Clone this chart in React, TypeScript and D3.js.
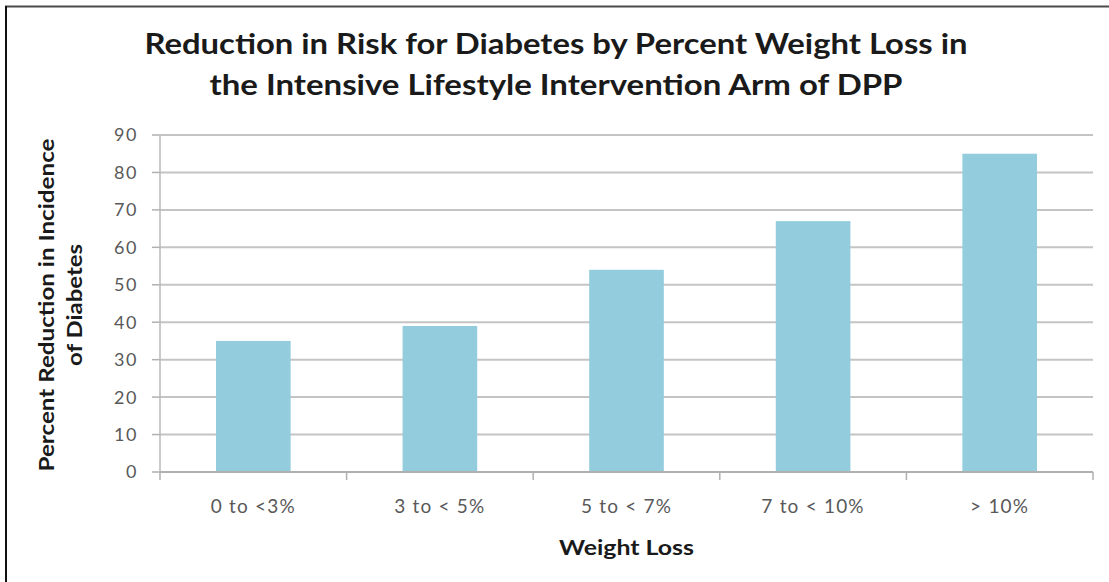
import React from "react";
import * as d3 from "d3";

const categories = ["0 to <3%", "3 to < 5%", "5 to < 7%", "7 to < 10%", "> 10%"];
const values = [35, 39, 54, 67, 85];
const yTicks = [0, 10, 20, 30, 40, 50, 60, 70, 80, 90];
const titleLines = [
  "Reduction in Risk for Diabetes by Percent Weight Loss in",
  "the Intensive Lifestyle Intervention Arm of DPP",
];
const yTitleLines = ["Percent Reduction in Incidence", "of Diabetes"];
const xTitle = "Weight Loss";

const W = 1109;
const H = 582;
const plot = { left: 160, right: 1093, top: 135, bottom: 472 };
const font = "Lato, 'Open Sans', sans-serif";
const titleWidths = [823, 693];
const yTitleWidths = [333, 122];

export default function App() {
  const x = d3
    .scaleBand<string>()
    .domain(categories)
    .range([plot.left, plot.right])
    .paddingInner(0)
    .paddingOuter(0);
  const y = d3.scaleLinear().domain([0, 90]).range([plot.bottom, plot.top]);
  const bw = x.bandwidth() * 0.4;

  return (
    <svg
      width={W}
      height={H}
      style={{ position: "absolute", left: 0, top: 0, background: "#fff" }}
      fontFamily={font}
    >
      <rect x={0} y={0} width={W} height={H} fill="#fff" />
      {/* frame */}
      <line x1={5} y1={6.5} x2={W} y2={6.5} stroke="#4a4a4a" strokeWidth={2} />
      <line x1={6} y1={6} x2={6} y2={H} stroke="#111" strokeWidth={2} />

      {/* title */}
      {titleLines.map((t, i) => (
        <text
          key={i}
          x={556}
          y={54 + i * 41}
          textAnchor="middle"
          fontSize={29}
          fontWeight="bold"
          fill="#1a1a1a"
          textLength={titleWidths[i]}
          lengthAdjust="spacingAndGlyphs"
        >
          {t}
        </text>
      ))}

      {/* gridlines */}
      {yTicks.map((t) => (
        <g key={t}>
          <line
            x1={plot.left}
            x2={plot.right}
            y1={y(t)}
            y2={y(t)}
            stroke="#c4c4c4"
            strokeWidth={2}
          />
          <line
            x1={plot.left - 8}
            x2={plot.left}
            y1={y(t)}
            y2={y(t)}
            stroke="#b0b0b0"
            strokeWidth={1.5}
          />
          <text
            x={138}
            y={y(t)}
            dy="0.36em"
            textAnchor="end"
            fontSize={18}
            letterSpacing={1.5}
            fill="#595959"
          >
            {t}
          </text>
        </g>
      ))}

      {/* y axis line */}
      <line
        x1={plot.left}
        x2={plot.left}
        y1={plot.top}
        y2={plot.bottom}
        stroke="#b8b8b8"
        strokeWidth={1.5}
      />

      {/* bars */}
      {categories.map((c, i) => (
        <rect
          key={c}
          x={(x(c) as number) + (x.bandwidth() - bw) / 2}
          y={y(values[i])}
          width={bw}
          height={y(0) - y(values[i])}
          fill="#93cddd"
        />
      ))}

      {/* x axis */}
      <line
        x1={plot.left}
        x2={plot.right}
        y1={plot.bottom}
        y2={plot.bottom}
        stroke="#b0b0b0"
        strokeWidth={2}
      />
      {[...categories.map((c) => x(c) as number), plot.right].map((px, i) => (
        <line
          key={"t" + i}
          x1={px}
          x2={px}
          y1={plot.bottom}
          y2={plot.bottom + 8}
          stroke="#b0b0b0"
          strokeWidth={1.5}
        />
      ))}
      {categories.map((c) => (
        <text
          key={"l" + c}
          x={(x(c) as number) + x.bandwidth() / 2}
          y={513}
          textAnchor="middle"
          fontSize={19}
          letterSpacing={1.2}
          fill="#595959"
        >
          {c}
        </text>
      ))}

      {/* x title */}
      <text
        x={(plot.left + plot.right) / 2}
        y={555}
        textAnchor="middle"
        fontSize={21}
        fontWeight="bold"
        fill="#1a1a1a"
        textLength={135}
        lengthAdjust="spacingAndGlyphs"
      >
        {xTitle}
      </text>

      {/* y title */}
      {yTitleLines.map((t, i) => (
        <text
          key={t}
          transform={`translate(${54 + i * 28},305) rotate(-90)`}
          textAnchor="middle"
          fontSize={20}
          fontWeight="bold"
          fill="#1a1a1a"
          textLength={yTitleWidths[i]}
          lengthAdjust="spacingAndGlyphs"
        >
          {t}
        </text>
      ))}
    </svg>
  );
}
